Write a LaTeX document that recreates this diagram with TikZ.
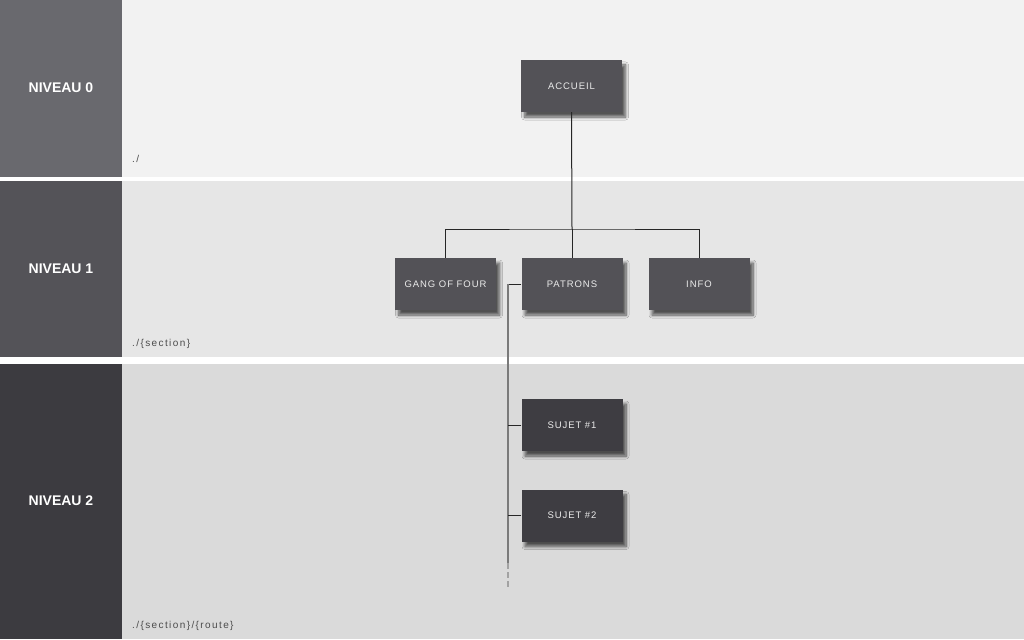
\documentclass[tikz,border=0pt]{standalone}
\usepackage{fontspec}
\setmainfont{Liberation Sans}
\usetikzlibrary{shadows.blur}
\definecolor{bgzero}{HTML}{F2F2F2}
\definecolor{bgone}{HTML}{E6E6E6}
\definecolor{bgtwo}{HTML}{DADADA}
\definecolor{colzero}{HTML}{69696E}
\definecolor{colone}{HTML}{545358}
\definecolor{coltwo}{HTML}{3C3B40}
\definecolor{pagegray}{HTML}{535257}
\definecolor{pagedark}{HTML}{3E3D42}
\definecolor{shadowgray}{HTML}{6F777A}
\definecolor{trunkgray}{HTML}{7A7A7A}
\tikzset{
  page/.style={draw=none, fill=pagegray, minimum width=101pt, minimum height=52pt,
    inner sep=0pt, text=white!92!black,
    font=\fontsize{9.5}{11}\selectfont\addfontfeatures{LetterSpace=10},
    blur shadow={shadow xshift=3.5pt, shadow yshift=-5pt, shadow blur radius=3pt,
      shadow opacity=65, shadow blur steps=8, shadow/.append style={fill=shadowgray}}},
  subpage/.style={page, fill=pagedark},
  levellabel/.style={text=white, font=\fontsize{14}{16}\selectfont\bfseries},
  pathlabel/.style={anchor=base west, inner sep=0pt, text=black!70,
    font=\fontsize{10}{12}\selectfont\addfontfeatures{LetterSpace=14}},
  link/.style={draw=black!85, line width=1pt},
}
\begin{document}
\begin{tikzpicture}[x=1pt,y=-1pt]
\useasboundingbox (0,0) rectangle (1024,639);
% fonds des niveaux
\fill[white] (0,0) rectangle (1024,639);
\fill[bgzero] (122,0) rectangle (1024,177);
\fill[bgone] (122,181) rectangle (1024,357);
\fill[bgtwo] (122,364) rectangle (1024,639);
\fill[colzero] (0,0) rectangle (122,177);
\fill[colone] (0,181) rectangle (122,357);
\fill[coltwo] (0,364) rectangle (122,639);
% noms des niveaux
\node[levellabel] (niv0) at (61,88) {NIVEAU 0};
\node[levellabel] (niv1) at (61,269) {NIVEAU 1};
\node[levellabel] (niv2) at (61,501) {NIVEAU 2};
% chemins
\node[pathlabel] (path0) at (132,163) {./};
\node[pathlabel] (path1) at (132,346) {./\{section\}};
\node[pathlabel] (path2) at (132,628) {./\{section\}/\{route\}};
% pages
\node[page] (accueil) at (571.5,86) {ACCUEIL};
\node[page] (gof) at (445.5,284) {GANG OF FOUR};
\node[page] (patrons) at (572,284) {PATRONS};
\node[page] (info) at (699,284) {INFO};
\node[subpage] (sujet1) at (572,425) {SUJET \#1};
\node[subpage] (sujet2) at (572,515.5) {SUJET \#2};
% liens niveau 0 -> niveau 1
\coordinate (split) at (572,229);
\draw[link] (accueil.south) -- (split);
\draw[link] (gof.north) |- (split) -| (info.north);
\draw[link] (split) -- (patrons.north);
% liens niveau 1 -> niveau 2
\coordinate (trunk) at (508,284);
\coordinate (trunkend) at (508,563);
\coordinate (trunktail) at (508,587);
\draw[link] (patrons.west) -- (trunk);
\draw[trunkgray, line width=2pt] (trunk) -- (trunkend);
\draw[trunkgray!70, line width=2pt, dash pattern=on 6pt off 3pt] (trunkend) -- (trunktail);
\draw[link] (sujet1.west) -- (sujet1.west -| trunk);
\draw[link] (sujet2.west) -- (sujet2.west -| trunk);
\end{tikzpicture}
\end{document}
